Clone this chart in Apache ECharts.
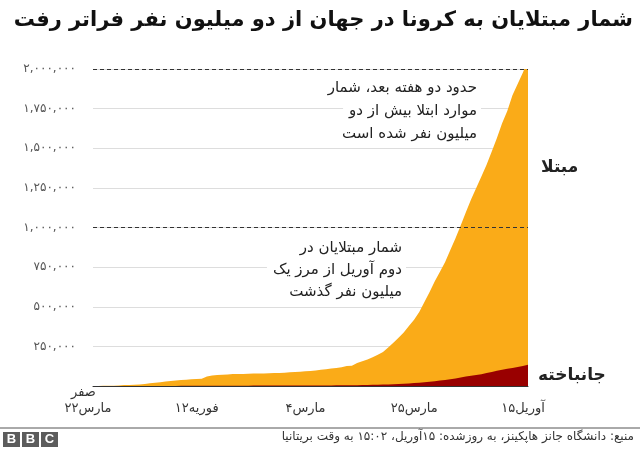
<!DOCTYPE html>
<html>
<head>
<meta charset="utf-8">
<script src="https://cdn.jsdelivr.net/npm/echarts@6/dist/echarts.min.js"></script>
<style>
  html, body { margin: 0; padding: 0; background: #fff; }
  #chart { width: 640px; height: 450px; }
</style>
</head>
<body>
<div id="chart"></div>
<script>
// داده‌ها: ۲۲ ژانویه تا ۱۵ آوریل
var startDay = '2020-01-22';
var dayCount = 85;
var cases = [
    555, 654, 941, 1434, 2118, 2927, 5578, 6166, 8234, 9927,
    12038, 16787, 19881, 23892, 27635, 30794, 34391, 37120, 40150, 42762,
    44802, 45221, 60368, 66885, 69030, 71224, 73258, 75136, 75639, 76197,
    76819, 78572, 78958, 79561, 80406, 81388, 82746, 84112, 86011,
    88369, 90306, 92840, 95120, 97886, 101801, 105847, 109821, 113590, 118620,
    125875, 128352, 145205, 156101, 167454, 181574, 197102, 214821, 242570, 272208,
    304507, 336953, 378235, 418045, 467653, 529591, 593291, 660706, 720117, 782365,
    857487,
    932605, 1013157, 1095917, 1176060, 1249754, 1321481, 1396476, 1480202, 1565278, 1657526,
    1735650, 1834721, 1904838, 1976191, 2056054
];
var deaths = [
    17, 18, 26, 42, 56, 82, 131, 133, 171, 213,
    259, 362, 426, 492, 564, 634, 719, 806, 906, 1013,
    1113, 1118, 1371, 1523, 1666, 1770, 1868, 2007, 2122, 2247,
    2251, 2458, 2469, 2629, 2708, 2770, 2814, 2872, 2941,
    2996, 3085, 3160, 3254, 3348, 3460, 3558, 3802, 3988, 4262,
    4615, 4720, 5404, 5819, 6440, 7126, 7905, 8733, 9867, 11299,
    12973, 14623, 16497, 18615, 21181, 23970, 27198, 30652, 33925, 37582,
    42107,
    47208, 53190, 59204, 64753, 69467, 74654, 81937, 88338, 95521, 102536,
    108503, 114091, 119482, 125984, 134177
];
var tickIndex = [0, 21, 42, 63, 84];
var tickLabels = ['۲۲مارس', '۱۲فوریه', '۴مارس', '۲۵مارس', '۱۵آوریل'];
var markLevels = [1000000, 2000000];
var noteTop = ['حدود دو هفته بعد، شمار', 'موارد ابتلا بیش از دو', 'میلیون نفر شده است'];
var noteMid = ['شمار مبتلایان در', 'دوم آوریل از مرز یک', 'میلیون نفر گذشت'];

var font = 'DejaVu Sans';

var days = [];
var d0 = new Date(startDay + 'T00:00:00Z');
for (var i = 0; i < dayCount; i++) {
    var d = new Date(d0.getTime() + i * 86400000);
    days.push(d.toISOString().slice(0, 10));
}

function faDigits(s) {
    return String(s).replace(/[0-9]/g, function (c) { return '۰۱۲۳۴۵۶۷۸۹'[+c]; });
}

// هر خط یادداشت جدا، راست‌چین، با زمینه سفید روی خطوط شبکه
function noteLines(lines, right, top, step) {
    return lines.map(function (t, k) {
        return {
            type: 'text', right: right, top: top + k * step, z: 50,
            style: {
                text: t, fontFamily: font, fontSize: 15, fill: '#222',
                backgroundColor: '#fff', padding: [1, 4, 1, 6]
            }
        };
    });
}

var myChart = echarts.init(document.getElementById('chart'));

var option = {
    animation: false,
    title: {
        text: 'شمار مبتلایان به کرونا در جهان از دو میلیون نفر فراتر رفت',
        right: 2,
        top: 5,
        textStyle: { fontFamily: font, fontSize: 21, fontWeight: 'bold', color: '#111' }
    },
    grid: { left: 93, right: 112, top: 69, bottom: 64 },
    xAxis: {
        type: 'category',
        boundaryGap: false,
        data: days,
        axisLine: { lineStyle: { color: '#333', width: 1 } },
        axisTick: { show: false },
        axisLabel: {
            interval: function (idx) { return tickIndex.indexOf(idx) >= 0; },
            formatter: function (val, idx) { return tickLabels[tickIndex.indexOf(idx)]; },
            margin: 16,
            padding: [0, 10, 0, 0],
            fontFamily: font,
            fontSize: 13,
            color: '#333',
            showMinLabel: true,
            showMaxLabel: true
        },
        splitLine: { show: false }
    },
    yAxis: {
        type: 'value',
        min: 0,
        max: 2000000,
        interval: 250000,
        axisLine: { show: false },
        axisTick: { show: false },
        axisLabel: {
            margin: 17,
            fontFamily: font,
            fontSize: 12,
            color: '#555',
            formatter: function (v) {
                if (v === 0) return '';
                return faDigits(v.toLocaleString('en-US'));
            }
        },
        splitLine: { lineStyle: { color: '#dddddd', width: 1 } }
    },
    series: [{
        name: 'مبتلا',
        type: 'line',
        data: cases,
        showSymbol: false,
        lineStyle: { width: 0 },
        areaStyle: { color: '#FAAB18', opacity: 1 },
        z: 2,
        markLine: {
            silent: true,
            symbol: 'none',
            label: { show: false },
            lineStyle: { color: '#333', type: [4, 3], width: 1 },
            data: markLevels.map(function (v) { return { yAxis: v }; })
        }
    }, {
        name: 'جانباخته',
        type: 'line',
        data: deaths,
        showSymbol: false,
        lineStyle: { width: 0 },
        areaStyle: { color: '#990000', opacity: 1 },
        z: 3
    }],
    graphic: [{
        type: 'text', left: 71, top: 386,
        style: { text: 'صفر', fontFamily: font, fontSize: 13, fill: '#333' }
    }, {
        type: 'text', left: 541, top: 159,
        style: { text: 'مبتلا', fontFamily: font, fontSize: 17, fontWeight: 'bold', fill: '#222' }
    }, {
        type: 'text', left: 538, top: 367,
        style: { text: 'جانباخته', fontFamily: font, fontSize: 17, fontWeight: 'bold', fill: '#222' }
    }, {
        type: 'line', shape: { x1: 0, y1: 428, x2: 640, y2: 428 },
        style: { stroke: '#555', lineWidth: 1 }
    }, {
        type: 'group', left: 3, top: 432,
        children: ['B', 'B', 'C'].map(function (ch, k) {
            return {
                type: 'group', x: k * 19,
                children: [{
                    type: 'rect', shape: { x: 0, y: 0, width: 17, height: 15 },
                    style: { fill: '#5c5c5c' }
                }, {
                    type: 'text', x: 8.5, y: 7.5,
                    style: { text: ch, fontFamily: 'Liberation Sans', fontSize: 13, fontWeight: 'bold',
                        fill: '#fff', align: 'center', verticalAlign: 'middle' }
                }]
            };
        })
    }, {
        type: 'text', right: 6, top: 431,
        style: {
            text: 'منبع: دانشگاه جانز هاپکینز، به روزشده: ۱۵آوریل، ۱۵:۰۲ به وقت بریتانیا',
            fontFamily: font, fontSize: 12, fill: '#333'
        }
    }].concat(noteLines(noteTop, 159, 80, 23), noteLines(noteMid, 234, 240, 22))
};

myChart.setOption(option);
window.addEventListener('resize', function () { myChart.resize(); });
</script>
</body>
</html>
